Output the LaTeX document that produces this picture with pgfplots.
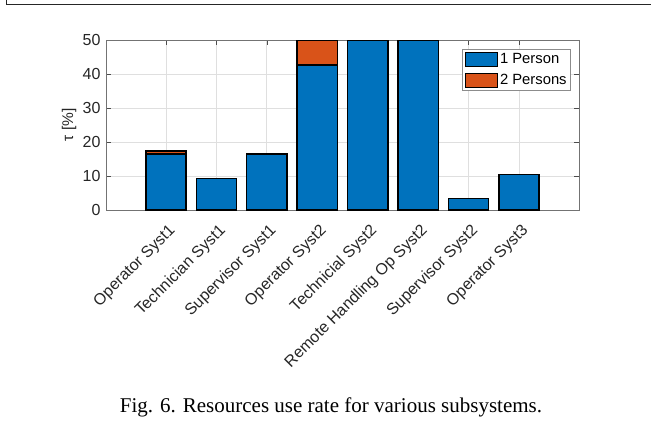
\documentclass[border=0pt]{standalone}
\usepackage{pgfplots}
\pgfplotsset{compat=1.18}
\usepackage{fontspec}
\setmainfont{Liberation Serif}
\newfontfamily\arialf{Liberation Sans}
\newcommand\tf{\arialf\fontsize{16}{19}\selectfont}
\newcommand\lf{\arialf\fontsize{14.8}{18}\selectfont}
\newcommand\yf{\arialf\fontsize{15.5}{18}\selectfont}
\definecolor{mblue}{rgb}{0,0.447,0.741}
\definecolor{morange}{rgb}{0.851,0.325,0.098}
\definecolor{mtext}{rgb}{0.15,0.15,0.15}
\definecolor{mgrid}{rgb}{0.875,0.875,0.875}
\pgfplotsset{mybarleg/.style={legend image code/.code={\draw[##1, line width=1.5pt] (0pt,-7pt) rectangle (32pt,7pt);}}}
\begin{document}
\begin{tikzpicture}[x=1pt,y=1pt]
\useasboundingbox (0,0) rectangle (651,429);
\draw[line width=1.4pt, black!85] (6.5,429) -- (6.5,424.5) -- (651,424.5);
\begin{axis}[
  at={(106pt,219pt)}, anchor=south west,
  scale only axis, width=473pt, height=170pt,
  ybar stacked, bar width=0.8, bar shift=0pt,
  xmin=-1.19, xmax=8.19, ymin=0, ymax=50,
  xtick={0,1,2,3,4,5,6,7},
  xticklabels={Operator Syst1, Technician Syst1, Supervisor Syst1, Operator Syst2, Technicial Syst2, Remote Handling Op Syst2, Supervisor Syst2, Operator Syst3},
  ytick={0,10,20,30,40,50},
  /pgf/number format/assume math mode=true,
  tick align=inside, major tick length=5pt,
  tick style={black!70, line width=0.6pt},
  axis line style={black!55, line width=0.8pt},
  grid=major, major grid style={mgrid, line width=0.8pt},
  tick label style={font=\tf, text=mtext},
  xticklabel style={xshift=7pt, yshift=-18pt, rotate=45, anchor=east, inner sep=0pt},
  yticklabel style={xshift=-2pt},
  ylabel={τ [\%]},
  ylabel style={font=\yf, text=mtext, at={(axis description cs:-0.078,0.5)}, anchor=center},
  legend style={at={(0.983,0.945)}, anchor=north east, draw=black!45, line width=0.6pt,
    font=\lf, text=black, inner sep=2pt, row sep=5pt},
  legend cell align=left,
]
\addplot[fill=mblue, draw=black, line width=1.5pt, mybarleg]
  coordinates {(0,16.5) (1,9.2) (2,16.4) (3,42.6) (4,49.8) (5,49.8) (6,3.4) (7,10.4)};
\addplot[fill=morange, draw=black, line width=1.5pt, mybarleg]
  coordinates {(0,0.9) (1,0) (2,0) (3,7.2) (4,0) (5,0) (6,0) (7,0)};
\legend{1 Person, 2 Persons}
\end{axis}
\node[anchor=base, font=\fontsize{21}{25}\selectfont] at (331,17) {Fig. 6. Resources use rate for various subsystems.};
\end{tikzpicture}
\end{document}
